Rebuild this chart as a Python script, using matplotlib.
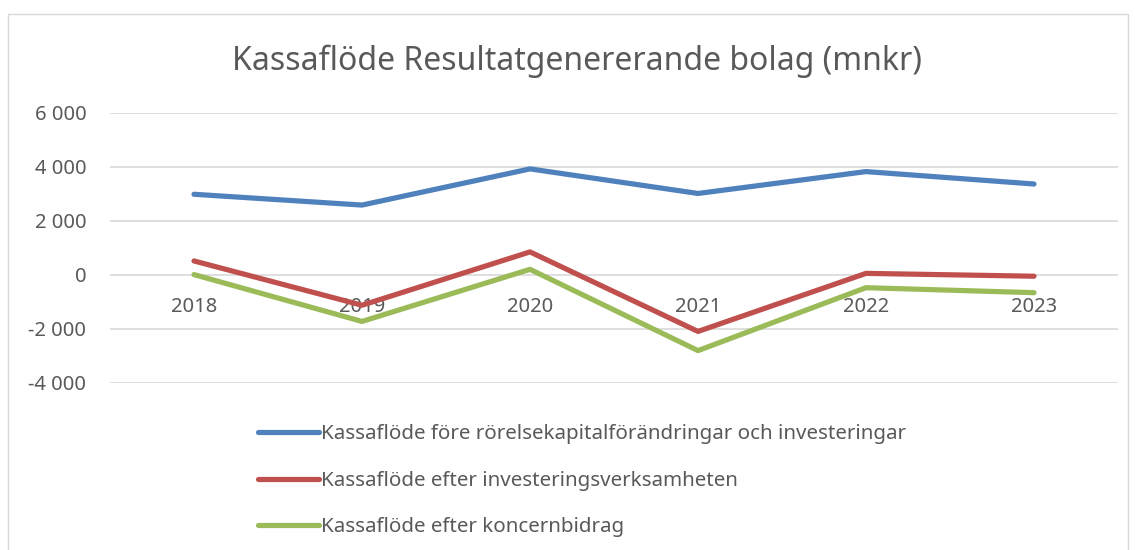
import numpy as np
import matplotlib.pyplot as plt
from matplotlib.patches import Rectangle

plt.rcParams['font.family'] = ['Noto Sans', 'DejaVu Sans']

years = ['2018', '2019', '2020', '2021', '2022', '2023']
fore_rorelsekapital = [2990, 2590, 3930, 3020, 3830, 3370]
efter_investering = [520, -1120, 855, -2090, 60, -45]
efter_koncernbidrag = [15, -1720, 210, -2800, -470, -655]

series = [
    ('Kassaflöde före rörelsekapitalförändringar och investeringar', fore_rorelsekapital, '#4F81BD'),
    ('Kassaflöde efter investeringsverksamheten', efter_investering, '#C0504D'),
    ('Kassaflöde efter koncernbidrag', efter_koncernbidrag, '#9BBB59'),
]

text_col = '#595959'
grid_col = '#D9D9D9'

fig = plt.figure(figsize=(11.35, 5.5), dpi=100)
# outer chart border (bottom edge runs off the image)
fig.patches.append(Rectangle((8 / 1135, -0.1), 1120 / 1135, 1.1 - 14 / 550,
                             transform=fig.transFigure, fill=False,
                             edgecolor=grid_col, linewidth=1))

ax = fig.add_axes([110 / 1135, 1 - 383 / 550, 1008 / 1135, 270 / 550])
x = np.arange(len(years))
lines = []
for label, vals, col in series:
    ln, = ax.plot(x, vals, color=col, linewidth=3.75, solid_capstyle='round',
                  solid_joinstyle='round', label=label)
    lines.append(ln)

ax.set_xlim(-0.5, len(years) - 0.5)
ax.set_ylim(-4000, 6000)
yt = np.arange(-4000, 6001, 2000)
ax.set_yticks(yt)
ax.set_yticklabels([f'{v:,}'.replace(',', ' ') for v in yt])
ax.grid(axis='y', color=grid_col, linewidth=1.2)
ax.set_axisbelow(True)
for s in ['top', 'right', 'left']:
    ax.spines[s].set_visible(False)
# category labels sit just under the zero line
ax.spines['bottom'].set_position(('data', 0))
ax.spines['bottom'].set_visible(False)
ax.set_xticks(x)
ax.set_xticklabels(years)
ax.tick_params(axis='x', length=0, pad=16, labelsize=14.5, labelcolor=text_col)
ax.tick_params(axis='y', length=0, pad=17, labelsize=14.5, labelcolor=text_col)

fig.text(577 / 1135, 1 - 61 / 550, 'Kassaflöde Resultatgenererande bolag (mnkr)',
         ha='center', va='center', fontsize=23, color=text_col)

fig.legend(handles=lines, loc='upper left', bbox_to_anchor=(258 / 1135, 1 - 424 / 550),
           frameon=False, borderpad=0, borderaxespad=0, handlelength=2.95,
           handletextpad=0.1, labelspacing=1.3, fontsize=14.8, labelcolor=text_col)

fig.savefig('out.png', dpi=100)
